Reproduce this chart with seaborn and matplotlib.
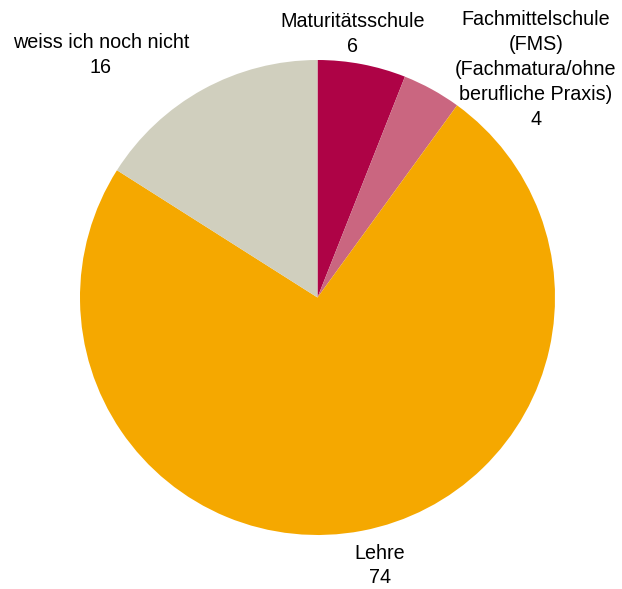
import matplotlib
matplotlib.use("Agg")
import matplotlib.pyplot as plt
import seaborn as sns

# data
categories = ["Maturitätsschule",
              "Fachmittelschule\n(FMS)\n(Fachmatura/ohne\nberufliche Praxis)",
              "Lehre",
              "weiss ich noch nicht"]
values = [6, 4, 74, 16]
colors = ["#AE0346", "#CA6680", "#F5A800", "#D0CFBE"]

# label anchor points (data coords, pie radius = 1)
label_pos = [(0.149, 1.111), (0.92, 0.958), (0.263, -1.128), (-0.912, 1.019)]

sns.set_theme(style="white")
plt.rcParams["font.family"] = ["Liberation Sans", "DejaVu Sans"]

W, H = 622, 589
fig = plt.figure(figsize=(W / 100, H / 100), dpi=100)
cx, cy, r = 317.5, 297.5, 237.5
ax = fig.add_axes([(cx - r) / W, (H - cy - r) / H, 2 * r / W, 2 * r / H])

ax.pie(values, colors=colors, startangle=90, counterclock=False,
       wedgeprops=dict(linewidth=0), radius=1)
ax.set_xlim(-1, 1)
ax.set_ylim(-1, 1)
ax.set_aspect("auto")
ax.axis("off")

for cat, val, (x, y) in zip(categories, values, label_pos):
    ax.text(x, y, f"{cat}\n{val}", ha="center", va="center", fontsize=14.2,
            color="black", linespacing=1.3 if cat == "Lehre" else 1.4,
            clip_on=False)

fig.savefig("out.png", dpi=100)
